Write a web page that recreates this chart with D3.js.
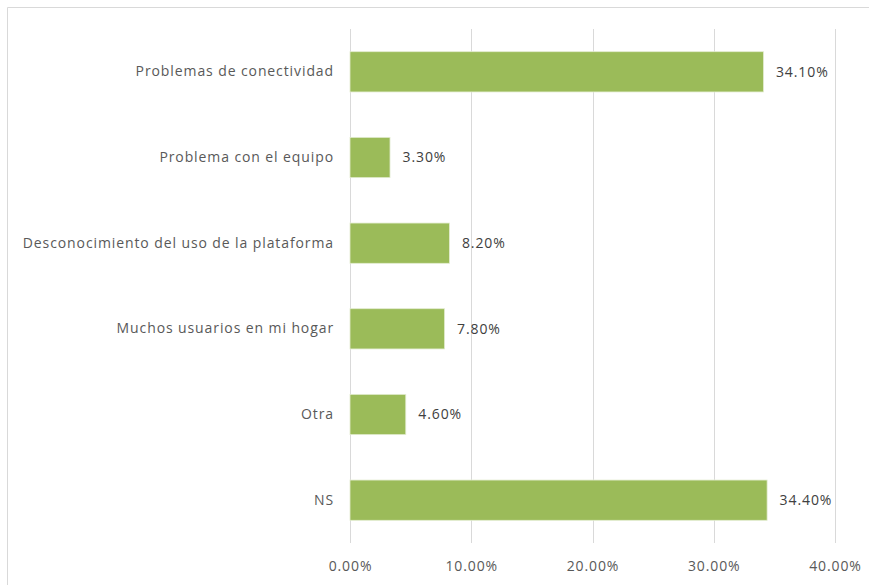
<!DOCTYPE html>
<html>
<head>
<meta charset="utf-8">
<script src="https://cdn.jsdelivr.net/npm/d3@7"></script>
<style>
  html, body { margin: 0; padding: 0; background: #fff; }
  svg { display: block; }
  text { font-family: "Open Sans", "Noto Sans", sans-serif; letter-spacing: 0.9px; }
</style>
</head>
<body>
<svg id="chart" width="871" height="585"></svg>
<script>
// Respuestas: problemas al usar la plataforma
const categories = [
  "Problemas de conectividad",
  "Problema con el equipo",
  "Desconocimiento del uso de la plataforma",
  "Muchos usuarios en mi hogar",
  "Otra",
  "NS"
];
const values = [34.1, 3.3, 8.2, 7.8, 4.6, 34.4];
const xTicks = [0, 10, 20, 30, 40];

const svg = d3.select("#chart");
const W = 871, H = 585;

// chart frame (only top and left edges fall inside the canvas)
svg.append("line").attr("x1", 7.5).attr("x2", 869).attr("y1", 7.5).attr("y2", 7.5)
  .attr("stroke", "#d9d9d9").attr("stroke-width", 1);
svg.append("line").attr("x1", 7.5).attr("x2", 7.5).attr("y1", 7.5).attr("y2", H)
  .attr("stroke", "#d9d9d9").attr("stroke-width", 1);

const x = d3.scaleLinear().domain([0, 40]).range([350, 835]);
const y = d3.scaleBand().domain(categories).range([29, 543]).paddingInner(0.53).paddingOuter(0.265);

// vertical gridlines
svg.append("g").selectAll("line").data(xTicks).join("line")
  .attr("x1", d => Math.round(x(d)) + 0.5).attr("x2", d => Math.round(x(d)) + 0.5)
  .attr("y1", 29).attr("y2", 543)
  .attr("stroke", "#d9d9d9").attr("stroke-width", 1);

// x axis tick labels
const xAxis = d3.axisBottom(x).tickValues(xTicks).tickSize(0).tickPadding(0)
  .tickFormat(d => d3.format(".2f")(d) + "%");
const gx = svg.append("g").attr("transform", "translate(0,561)").call(xAxis);
gx.select(".domain").remove();
gx.selectAll("text").attr("fill", "#595959").attr("font-size", 14)
  .attr("dy", "0.71em");

// bars
svg.append("g").selectAll("rect").data(values).join("rect")
  .attr("x", x(0))
  .attr("y", (d, i) => y(categories[i]))
  .attr("width", d => x(d) - x(0))
  .attr("height", y.bandwidth())
  .attr("fill", "#9bbb59")
  .attr("stroke", "#e3ecd0").attr("stroke-width", 0.8);

// category labels
const yAxis = d3.axisLeft(y).tickSize(0).tickPadding(16);
const gy = svg.append("g").attr("transform", `translate(${x(0)},0)`).call(yAxis);
gy.select(".domain").remove();
gy.selectAll("text").attr("fill", "#595959").attr("font-size", 14);

// value labels
svg.append("g").selectAll("text").data(values).join("text")
  .attr("x", d => x(d) + 12.5)
  .attr("y", (d, i) => y(categories[i]) + y.bandwidth() / 2)
  .attr("dy", "0.35em")
  .attr("fill", "#404040").attr("font-size", 14)
  .text(d => d3.format(".2f")(d) + "%");
</script>
</body>
</html>
